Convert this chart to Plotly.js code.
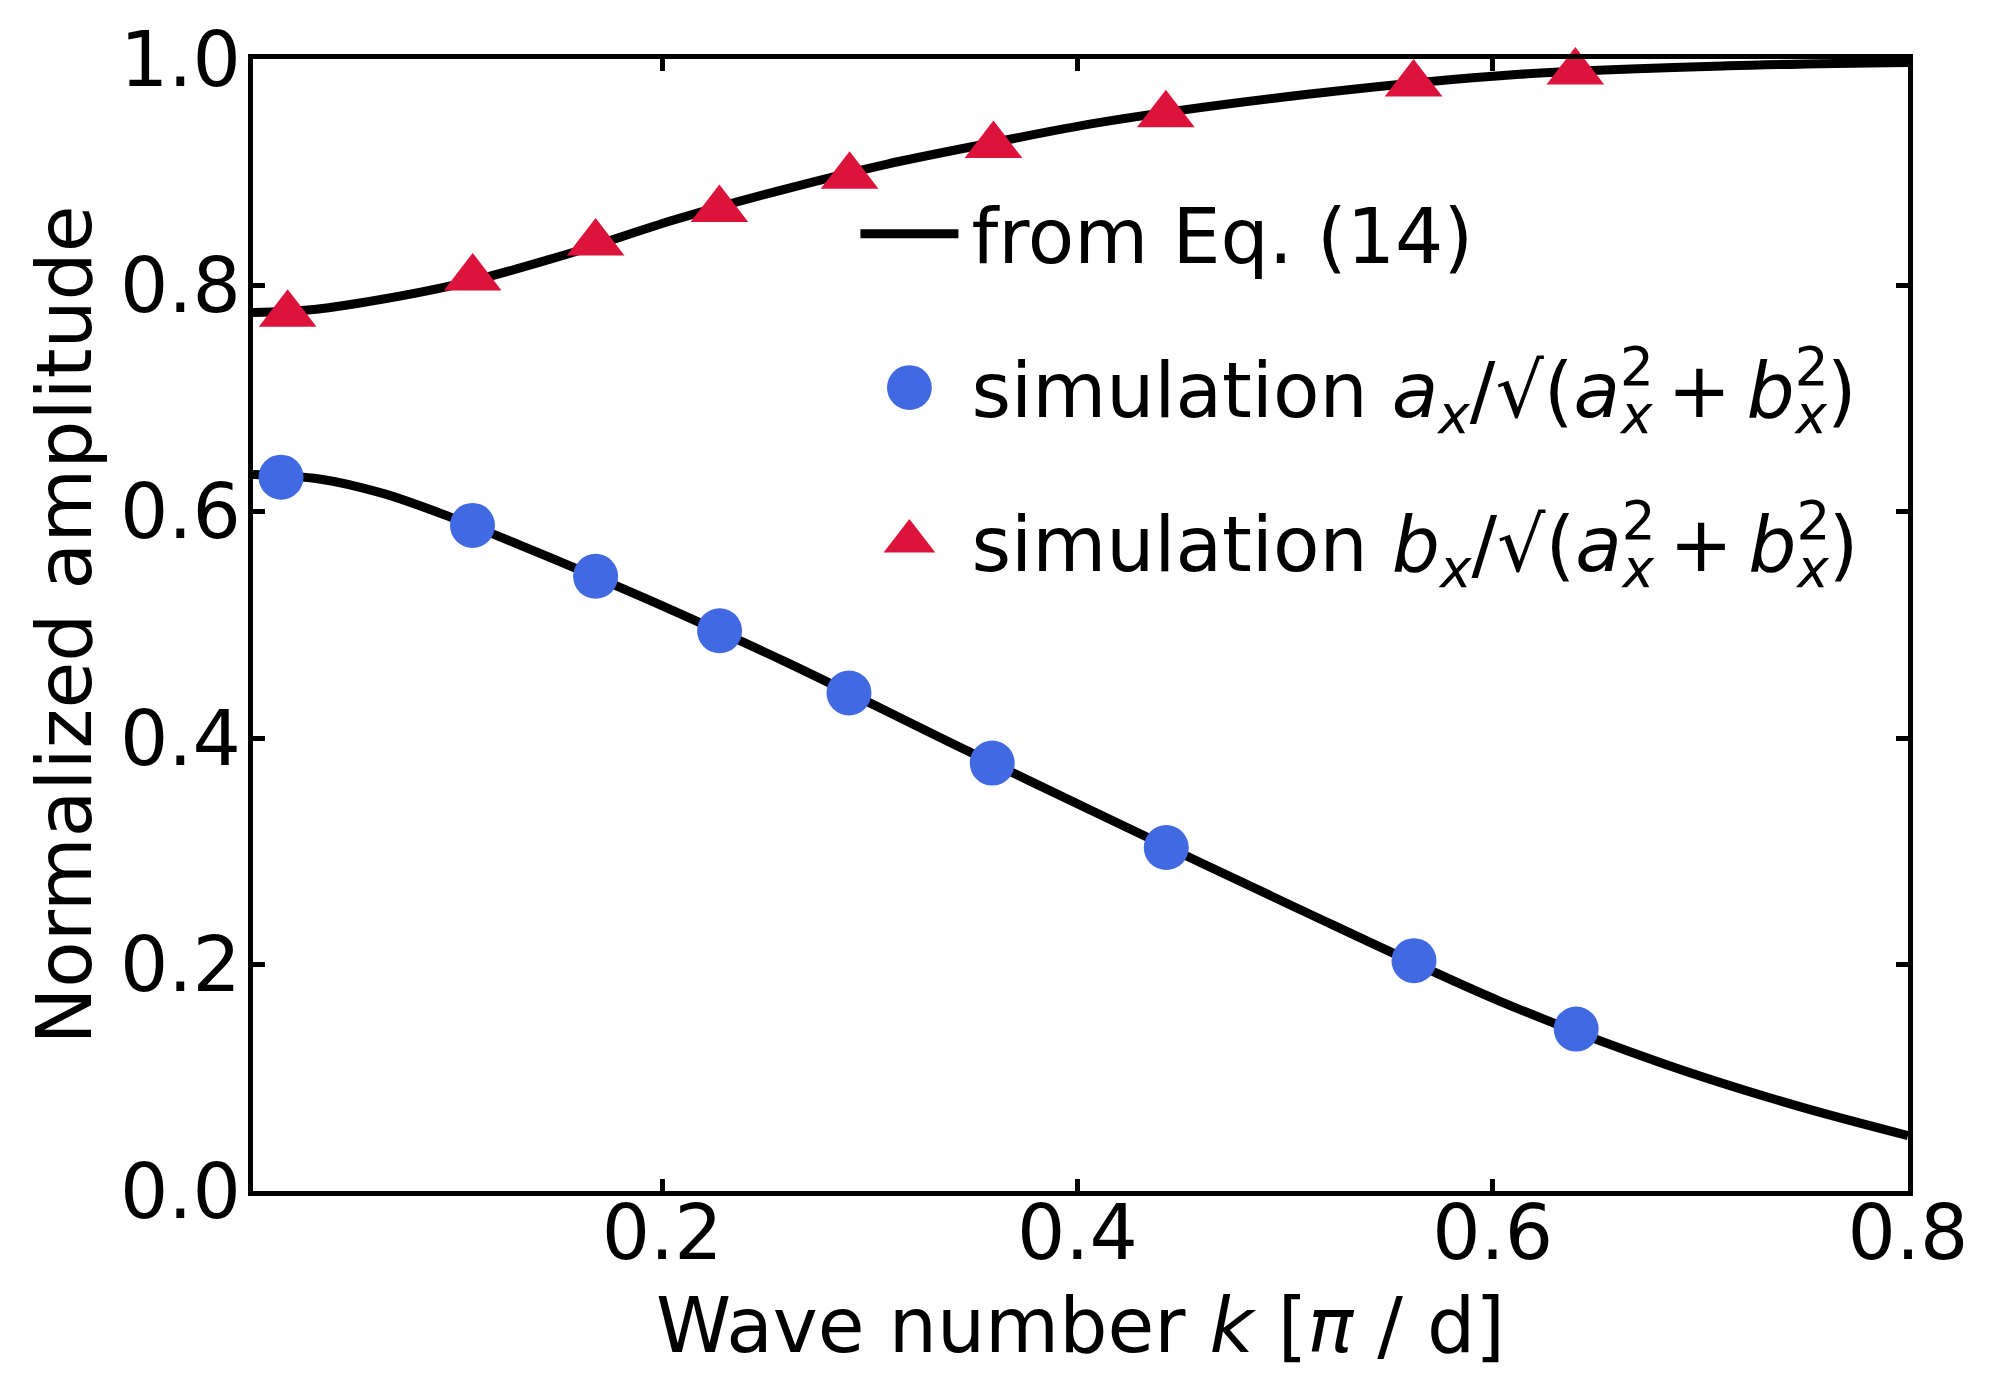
<!DOCTYPE html>
<html>
<head>
<meta charset="utf-8">
<script src="https://cdn.plot.ly/plotly-3.0.1.min.js"></script>
<style>html,body{margin:0;padding:0;background:#fff;}#chart{width:1998px;height:1398px;}</style>
</head>
<body>
<div id="chart"></div>
<script>
// Theory curves (from Eq. (14))
const eqK_a = [0.003, 0.035, 0.066, 0.100, 0.131, 0.165, 0.195, 0.260, 0.339, 0.408, 0.501, 0.603, 0.683, 0.747, 0.800];
const eqA   = [0.633, 0.629, 0.616, 0.594, 0.571, 0.545, 0.521, 0.467, 0.396, 0.335, 0.254, 0.168, 0.112, 0.075, 0.049];
const eqK_b = [0.003, 0.028, 0.053, 0.104, 0.155, 0.206, 0.257, 0.308, 0.359, 0.411, 0.512, 0.613, 0.713, 0.800];
const eqB   = [0.776, 0.778, 0.784, 0.802, 0.828, 0.858, 0.884, 0.907, 0.926, 0.944, 0.969, 0.9865, 0.994, 0.997];

// Simulation points
const simK_a = [0.0165, 0.1087, 0.168, 0.2277, 0.290, 0.359, 0.4428, 0.5621, 0.6402];
const simA   = [0.6306, 0.588, 0.543, 0.4949, 0.440, 0.378, 0.3034, 0.2035, 0.143];
const simK_b = [0.0197, 0.1088, 0.168, 0.2276, 0.2903, 0.3596, 0.4426, 0.5619, 0.6398];
const simB   = [0.7746, 0.8066, 0.8374, 0.8671, 0.8965, 0.9235, 0.9508, 0.9779, 0.9885];

const xTicks = [0.2, 0.4, 0.6, 0.8];
const yTicks = [0.0, 0.2, 0.4, 0.6, 0.8, 1.0];

// stacked super/subscript: a negative letter-spacing after the "2" pulls the subscript under it
const SQ = '<sup><span style="letter-spacing:-0.62em">2</span></sup><sub><i>x</i></sub>';
const legendNames = [
  'from Eq. (14)',
  'simulation <i>a</i><sub><i>x</i></sub>/√(<i>a</i>' + SQ + '\u2009+\u2009<i>b</i>' + SQ + ')',
  'simulation <i>b</i><sub><i>x</i></sub>/√(<i>a</i>' + SQ + '\u2009+\u2009<i>b</i>' + SQ + ')'
];

const FONT = "DejaVu Sans, Liberation Sans, sans-serif";
const FS = 76;

const traces = [
  {x: eqK_a, y: eqA, mode: 'lines', line: {color: '#000', width: 9, shape: 'spline', smoothing: 0.9},
   name: legendNames[0], showlegend: true, legendgroup: 'g1'},
  {x: eqK_b, y: eqB, mode: 'lines', line: {color: '#000', width: 9, shape: 'spline', smoothing: 0.9},
   name: legendNames[0], showlegend: false, legendgroup: 'g1'},
  {x: simK_a, y: simA, mode: 'markers', marker: {symbol: 'circle', color: '#4169E1', size: 45},
   name: legendNames[1], legendgroup: 'g2'},
  {x: simK_b, y: simB, mode: 'markers', marker: {symbol: 'triangle-up', color: '#DC143C', size: 50},
   name: legendNames[2], legendgroup: 'g3', cliponaxis: false}
];

const axisCommon = {
  showline: true, linecolor: '#000', linewidth: 5, mirror: 'allticks',
  ticks: 'inside', ticklen: 12, tickwidth: 5, tickcolor: '#000',
  showgrid: false, zeroline: false,
  tickfont: {family: FONT, size: FS, color: '#000'}
};

const layout = {
  width: 1998, height: 1398,
  paper_bgcolor: '#fff', plot_bgcolor: '#fff',
  margin: {l: 253, r: 90, t: 59, b: 207},
  font: {family: FONT, size: FS, color: '#000'},
  xaxis: Object.assign({}, axisCommon, {
    range: [0.003, 0.8], tickvals: xTicks, ticktext: xTicks.map(v => v.toFixed(1)),
    ticklabelstandoff: -28,
    title: {text: 'Wave number <i>k</i> [<i>π</i> / d]', font: {family: FONT, size: FS, color: '#000'}, standoff: 24}
  }),
  yaxis: Object.assign({}, axisCommon, {
    range: [0, 1], tickvals: yTicks, ticktext: yTicks.map(v => v.toFixed(1)),
    ticklabelstandoff: -8,
    title: {text: 'Normalized amplitude', font: {family: FONT, size: FS, color: '#000'}, standoff: 5}
  }),
  showlegend: true,
  legend: {
    x: 0.364, y: 0.895, xanchor: 'left', yanchor: 'top',
    bgcolor: 'rgba(0,0,0,0)', borderwidth: 0,
    font: {family: FONT, size: FS, color: '#000'},
    itemwidth: 106, tracegroupgap: 52, traceorder: 'grouped'
  }
};

Plotly.newPlot('chart', traces, layout, {staticPlot: true, displayModeBar: false}).then(function (gd) {
  // enlarge legend samples to match the size used in the plot
  gd.querySelectorAll('.legend .legendlines path').forEach(function (p) {
    p.setAttribute('d', 'M5,0h98');
  });
  gd.querySelectorAll('.legend .legendsymbols path.scatterpts').forEach(function (p) {
    p.setAttribute('transform', 'translate(54,0) scale(2.8)');
  });
});
</script>
</body>
</html>
